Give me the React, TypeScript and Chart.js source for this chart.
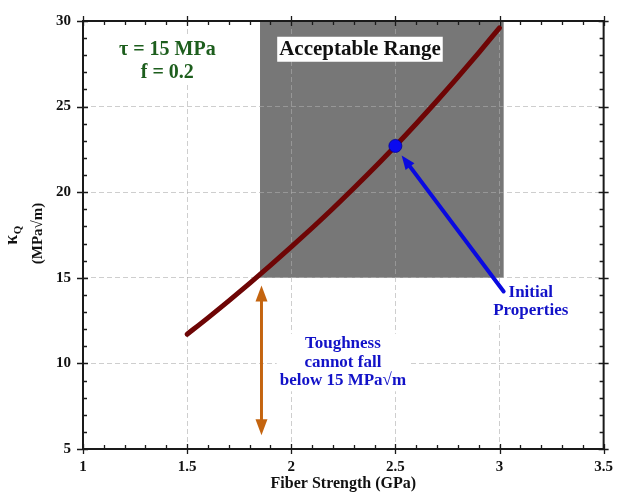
import React, { useEffect, useRef } from 'react';
import { Chart, registerables } from 'chart.js';

Chart.register(...registerables);

// ---- data ----
const fiberStrength = [1.5, 1.6, 1.7, 1.8, 1.9, 2.0, 2.1, 2.2, 2.3, 2.4, 2.5, 2.6, 2.7, 2.8, 2.9, 3.0];
const toughness = [11.7, 12.66, 13.65, 14.67, 15.72, 16.8, 17.91, 19.05, 20.23, 21.44, 22.7, 24.0, 25.34, 26.72, 28.14, 29.6];

const initialStrength = [2.5];
const initialToughness = [22.7];

const rangeStrength = [1.85, 3.02];
const rangeToughness = [15, 30];

const xLimits = [1, 3.5];
const yLimits = [5, 30];
const xStep = 0.5;
const yStep = 5;

const blueArrowStrength = [3.02, 2.53];
const blueArrowToughness = [14.2, 22.15];
const orangeArrowStrength = [1.857, 1.857];
const orangeArrowToughness = [14.55, 5.8];

const SERIF = "'Liberation Serif', 'Times New Roman', Times, serif";

function drawHead(ctx: CanvasRenderingContext2D, fx: number, fy: number, tx: number, ty: number, len: number, half: number) {
  const a = Math.atan2(ty - fy, tx - fx);
  const c = Math.cos(a), s = Math.sin(a);
  ctx.beginPath();
  ctx.moveTo(tx, ty);
  ctx.lineTo(tx - len * c + half * s, ty - len * s - half * c);
  ctx.lineTo(tx - len * c - half * s, ty - len * s + half * c);
  ctx.closePath();
  ctx.fill();
  return [tx - len * 0.8 * c, ty - len * 0.8 * s];
}

function textBlock(ctx: CanvasRenderingContext2D, lines: string[], cx: number, cy: number, lh: number, font: string, color: string, pad: number) {
  ctx.font = font;
  let w = 0;
  lines.forEach((l) => (w = Math.max(w, ctx.measureText(l).width)));
  const h = lines.length * lh;
  ctx.fillStyle = '#ffffff';
  ctx.fillRect(cx - w / 2 - pad, cy - h / 2 - 1, w + pad * 2, h + 2);
  ctx.fillStyle = color;
  ctx.textAlign = 'center';
  ctx.textBaseline = 'middle';
  lines.forEach((l, i) => ctx.fillText(l, cx, cy - h / 2 + lh * (i + 0.5)));
}

const overlay = {
  id: 'overlay',
  beforeDraw(chart: any) {
    const { ctx, scales } = chart;
    const x = scales.x, y = scales.y;
    const x0 = x.getPixelForValue(rangeStrength[0]);
    const x1 = x.getPixelForValue(rangeStrength[1]);
    const y0 = y.getPixelForValue(rangeToughness[0]);
    const y1 = y.getPixelForValue(rangeToughness[1]);
    ctx.save();
    ctx.fillStyle = '#777777';
    ctx.fillRect(x0, y1, x1 - x0, y0 - y1);
    ctx.restore();
  },
  afterDraw(chart: any) {
    const { ctx, scales, chartArea } = chart;
    const x = scales.x, y = scales.y;
    const { left, right, top, bottom } = chartArea;
    ctx.save();

    // text annotations
    textBlock(ctx, ['Acceptable Range'], x.getPixelForValue(2.33), y.getPixelForValue(28.35), 23, `bold 21px ${SERIF}`, '#111111', 2);
    textBlock(ctx, ['τ = 15 MPa', 'f = 0.2'], x.getPixelForValue(1.405), y.getPixelForValue(27.67), 23, `bold 20px ${SERIF}`, '#1d5e1d', 3);
    textBlock(ctx, ['Toughness', 'cannot fall', 'below 15 MPa√m'], x.getPixelForValue(2.248), y.getPixelForValue(10.05), 18.5, `bold 17px ${SERIF}`, '#1212c8', 3);
    textBlock(ctx, ['Initial', 'Properties'], x.getPixelForValue(3.15), y.getPixelForValue(13.6), 18.5, `bold 17px ${SERIF}`, '#1212c8', 2);

    // blue arrow
    {
      const fx = x.getPixelForValue(blueArrowStrength[0]);
      const fy = y.getPixelForValue(blueArrowToughness[0]);
      const tx = x.getPixelForValue(blueArrowStrength[1]);
      const ty = y.getPixelForValue(blueArrowToughness[1]);
      ctx.fillStyle = '#0a0ae0';
      ctx.strokeStyle = '#0a0ae0';
      const [bx, by] = drawHead(ctx, fx, fy, tx, ty, 14, 5.5);
      ctx.lineWidth = 4;
      ctx.lineCap = 'round';
      ctx.beginPath();
      ctx.moveTo(fx, fy);
      ctx.lineTo(bx, by);
      ctx.stroke();
    }
    // orange double arrow
    {
      const ax = x.getPixelForValue(orangeArrowStrength[0]);
      const ya = y.getPixelForValue(orangeArrowToughness[0]);
      const yb = y.getPixelForValue(orangeArrowToughness[1]);
      ctx.fillStyle = '#c4640f';
      ctx.strokeStyle = '#c4640f';
      const [, t1] = drawHead(ctx, ax, yb, ax, ya, 16, 6);
      const [, t2] = drawHead(ctx, ax, ya, ax, yb, 16, 6);
      ctx.lineWidth = 3;
      ctx.lineCap = 'butt';
      ctx.beginPath();
      ctx.moveTo(ax, t1);
      ctx.lineTo(ax, t2);
      ctx.stroke();
    }

    // frame and ticks
    ctx.strokeStyle = '#1a1a1a';
    ctx.lineWidth = 1.3;
    ctx.beginPath();
    for (let i = Math.round(xLimits[0] * 10); i <= Math.round(xLimits[1] * 10); i++) {
      const px = Math.round(x.getPixelForValue(i / 10)) + 0.5;
      const major = i % 5 === 0;
      if (major) {
        ctx.moveTo(px, bottom - 5); ctx.lineTo(px, bottom + 5);
        ctx.moveTo(px, top - 5); ctx.lineTo(px, top + 5);
      } else {
        ctx.moveTo(px, bottom - 4); ctx.lineTo(px, bottom);
        ctx.moveTo(px, top); ctx.lineTo(px, top + 4);
      }
    }
    for (let i = yLimits[0]; i <= yLimits[1]; i++) {
      const py = Math.round(y.getPixelForValue(i)) + 0.5;
      const major = i % 5 === 0;
      if (major) {
        ctx.moveTo(left - 6, py); ctx.lineTo(left + 5, py);
        ctx.moveTo(right - 5, py); ctx.lineTo(right + 5, py);
      } else {
        ctx.moveTo(left, py); ctx.lineTo(left + 4, py);
        ctx.moveTo(right - 4, py); ctx.lineTo(right, py);
      }
    }
    ctx.stroke();
    ctx.lineWidth = 2;
    ctx.strokeRect(left, top, right - left, bottom - top);

    // y-axis title with subscript
    ctx.translate(0, (top + bottom) / 2 + 0.5);
    ctx.rotate(-Math.PI / 2);
    ctx.fillStyle = '#111111';
    ctx.textBaseline = 'alphabetic';
    ctx.font = `bold 18px ${SERIF}`;
    const kw = ctx.measureText('κ').width;
    ctx.font = `bold 11px ${SERIF}`;
    const qw = ctx.measureText('Q').width;
    const start = -(kw + qw) / 2;
    ctx.textAlign = 'left';
    ctx.font = `bold 18px ${SERIF}`;
    ctx.fillText('κ', start, 17);
    ctx.font = `bold 11px ${SERIF}`;
    ctx.fillText('Q', start + kw + 0.5, 20.5);
    ctx.textAlign = 'center';
    ctx.font = `bold 15px ${SERIF}`;
    ctx.fillText('(MPa√m)', 2, 42);

    ctx.restore();
  },
};

export default function App() {
  const ref = useRef<HTMLCanvasElement | null>(null);
  useEffect(() => {
    if (!ref.current) return;
    const curve = fiberStrength.map((v, i) => ({ x: v, y: toughness[i] }));
    const initial = initialStrength.map((v, i) => ({ x: v, y: initialToughness[i] }));
    const gridColor = 'rgba(173,173,173,0.6)';
    const chart = new Chart(ref.current, {
      type: 'scatter',
      data: {
        datasets: [
          {
            data: initial,
            order: 0,
            showLine: false,
            pointRadius: 6.5,
            backgroundColor: '#0a0af0',
            borderColor: '#00009a',
            borderWidth: 0.8,
          },
          {
            data: curve,
            order: 1,
            showLine: true,
            borderColor: '#6e0505',
            borderWidth: 5,
            borderCapStyle: 'round',
            borderJoinStyle: 'round',
            pointRadius: 0,
            cubicInterpolationMode: 'monotone',
          },
        ],
      } as any,
      options: {
        animation: false,
        responsive: false,
        events: [],
        layout: { padding: { top: 16, right: 14, left: 0, bottom: 0 } },
        plugins: { legend: { display: false }, tooltip: { enabled: false } },
        scales: {
          x: {
            type: 'linear',
            min: xLimits[0],
            max: xLimits[1],
            afterFit: (s: any) => { s.height = 52; },
            ticks: { stepSize: xStep, padding: 9, color: '#111', font: { family: SERIF, size: 15, weight: 'bold' }, callback: (v: any) => `${+v}` },
            grid: { color: gridColor, drawTicks: false, lineWidth: 1 },
            border: { display: false, dash: [5, 3] },
            title: { display: true, text: 'Fiber Strength (GPa)', color: '#111', font: { family: SERIF, size: 16, weight: 'bold' }, padding: { top: 0, bottom: 8 } },
          },
          y: {
            type: 'linear',
            min: yLimits[0],
            max: yLimits[1],
            afterFit: (s: any) => { s.width = 83; },
            ticks: { stepSize: yStep, padding: 12, color: '#111', font: { family: SERIF, size: 15, weight: 'bold' }, callback: (v: any) => `${+v}` },
            grid: { color: gridColor, drawTicks: false, lineWidth: 1 },
            border: { display: false, dash: [5, 3] },
          },
        },
      } as any,
      plugins: [overlay],
    });
    return () => chart.destroy();
  }, []);
  return (
    <div style={{ position: 'absolute', left: 0, top: 0, width: 622, height: 501, background: '#fff' }}>
      <canvas ref={ref} width={622} height={501} style={{ display: 'block', width: 622, height: 501 }} />
    </div>
  );
}
